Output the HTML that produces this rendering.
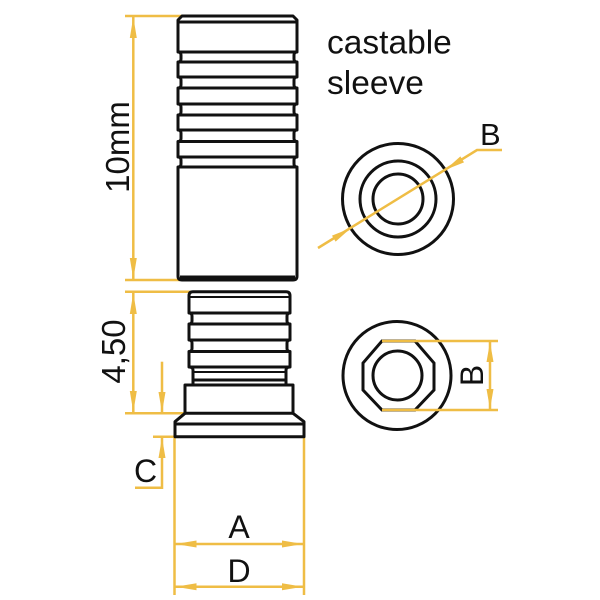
<!DOCTYPE html>
<html>
<head>
<meta charset="utf-8">
<style>
html,body{margin:0;padding:0;background:#fff;}
svg{display:block;}
text{font-family:"Liberation Sans",Arial,sans-serif;fill:#111;}
</style>
</head>
<body>
<svg width="600" height="600" viewBox="0 0 600 600" xmlns="http://www.w3.org/2000/svg">
<rect width="600" height="600" fill="#fff"/>

<!-- ===== Yellow dimension lines (behind body) ===== -->
<g stroke="#EFBD45" stroke-width="2.5" fill="none">
  <line x1="125" y1="16" x2="182" y2="16"/>
  <line x1="133.3" y1="16" x2="133.3" y2="280"/>
  <line x1="125" y1="280" x2="180" y2="280"/>
  <line x1="125" y1="291.7" x2="197" y2="291.7"/>
  <line x1="133.3" y1="291.7" x2="133.3" y2="413.3"/>
  <line x1="125" y1="413.3" x2="187" y2="413.3"/>
  <!-- C -->
  <line x1="162" y1="361.7" x2="162" y2="413"/>
  <line x1="153" y1="436.7" x2="175" y2="436.7"/>
  <polyline points="162,437 162,487.7 135,487.7"/>
  <!-- extension lines -->
  <line x1="174.5" y1="436.7" x2="174.5" y2="595"/>
  <line x1="304" y1="436.7" x2="304" y2="595"/>
  <line x1="174.5" y1="544" x2="304" y2="544"/>
  <line x1="174.5" y1="586.7" x2="304" y2="586.7"/>
</g>
<g fill="#EFBD45">
  <polygon points="133.3,17 129.8,38 136.8,38"/>
  <polygon points="133.3,279 129.8,258 136.8,258"/>
  <polygon points="133.3,293 129.8,314 136.8,314"/>
  <polygon points="133.3,412 129.8,391 136.8,391"/>
  <polygon points="162,412.5 158.5,392 165.5,392"/>
  <polygon points="162,437.5 158.5,458 165.5,458"/>
  <polygon points="175.5,544 196.5,540.5 196.5,547.5"/>
  <polygon points="303,544 282,540.5 282,547.5"/>
  <polygon points="175.5,586.7 196.5,583.2 196.5,590.2"/>
  <polygon points="303,586.7 282,583.2 282,590.2"/>
</g>

<!-- ===== Upper sleeve ===== -->
<g stroke="#111" stroke-width="3" fill="#fff" stroke-linejoin="round">
  <path d="M 182 16 L 178 20 L 178 52 Q 181 52 181 55 L 181 59 Q 181 62 178 62 L 178 77 Q 181 77 181 80 L 181 85 Q 181 88 178 88 L 178 104 Q 181 104 181 107 L 181 112 Q 181 115 178 115 L 178 130 Q 181 130 181 133 L 181 138.5 Q 181 141.5 178 141.5 L 178 157 Q 181 157 181 160 L 181 164 Q 181 167 178 167 L 178 276 Q 178 280 182 280 L 293 280 Q 297 280 297 276 L 297 167 Q 294 167 294 164 L 294 160 Q 294 157 297 157 L 297 141.5 Q 294 141.5 294 138.5 L 294 133 Q 294 130 297 130 L 297 115 Q 294 115 294 112 L 294 107 Q 294 104 297 104 L 297 88 Q 294 88 294 85 L 294 80 Q 294 77 297 77 L 297 62 Q 294 62 294 59 L 294 55 Q 294 52 297 52 L 297 20 L 293 16 Z"/>
</g>
<g stroke="#111" stroke-width="3">
  <line x1="178" y1="22" x2="297" y2="22"/>
  <line x1="178" y1="52" x2="297" y2="52"/>
  <line x1="178" y1="62" x2="297" y2="62"/>
  <line x1="178" y1="77" x2="297" y2="77"/>
  <line x1="178" y1="88" x2="297" y2="88"/>
  <line x1="178" y1="104" x2="297" y2="104"/>
  <line x1="178" y1="115" x2="297" y2="115"/>
  <line x1="178" y1="130" x2="297" y2="130"/>
  <line x1="178" y1="141.5" x2="297" y2="141.5"/>
  <line x1="178" y1="157" x2="297" y2="157"/>
  <line x1="178" y1="167" x2="297" y2="167"/>
  <line x1="180" y1="277" x2="295" y2="277"/>
</g>

<!-- ===== Lower piece ===== -->
<g stroke="#111" stroke-width="3" fill="#fff" stroke-linejoin="round">
  <path d="M 193 291.7 Q 189 291.7 189 295.7 L 189 313 Q 192 313 192 316 L 192 321 Q 192 324 189 324 L 189 340 Q 192 340 192 343 L 192 348.5 Q 192 351.5 189 351.5 L 189 367 Q 193 367 193 370 L 193 385 L 185 385 L 185 413.3 L 175 421.7 L 175 436.7 L 304 436.7 L 304 421.7 L 293 413.3 L 293 385 L 286 385 L 286 370 Q 286 367 290 367 L 290 351.5 Q 287 351.5 287 348.5 L 287 343 Q 287 340 290 340 L 290 324 Q 287 324 287 321 L 287 316 Q 287 313 290 313 L 290 295.7 Q 290 291.7 286 291.7 Z"/>
</g>
<g stroke="#111" stroke-width="3">
  <line x1="189" y1="297" x2="290" y2="297" stroke-width="2"/>
  <line x1="189" y1="313" x2="290" y2="313"/>
  <line x1="189" y1="324" x2="290" y2="324"/>
  <line x1="189" y1="340" x2="290" y2="340"/>
  <line x1="189" y1="351.5" x2="290" y2="351.5"/>
  <line x1="189" y1="367" x2="290" y2="367"/>
  <line x1="193" y1="372" x2="286" y2="372" stroke-width="2"/>
  <line x1="193" y1="380" x2="286" y2="380"/>
  <line x1="185" y1="385" x2="293" y2="385"/>
  <line x1="185" y1="413.3" x2="293" y2="413.3"/>
  <line x1="175" y1="424" x2="304" y2="424"/>
</g>

<!-- ===== Top end view (circles) ===== -->
<g stroke="#111" stroke-width="3" fill="none">
  <circle cx="398" cy="199" r="55.5"/>
  <circle cx="398" cy="199" r="38"/>
  <circle cx="398" cy="199" r="25"/>
</g>
<g stroke="#EFBD45" stroke-width="2.5" fill="none">
  <polyline points="318,248 477,150 502,150"/>
</g>
<g fill="#EFBD45">
  <polygon points="445.2,169.9 464.0,162.4 460.4,156.4"/>
  <polygon points="350.8,228.1 335.6,241.6 332.0,235.6"/>
</g>

<!-- ===== Bottom end view (hex) ===== -->
<g stroke="#111" stroke-width="3" fill="none">
  <circle cx="397" cy="375.5" r="54"/>
  <polygon points="382,341 415,341 434,363 434,390 415,410 382,410 363,390 363,363"/>
  <circle cx="397.5" cy="375.5" r="24.5"/>
</g>
<g stroke="#EFBD45" stroke-width="2.5" fill="none">
  <line x1="382" y1="341" x2="498" y2="341"/>
  <line x1="382" y1="410" x2="498" y2="410"/>
  <line x1="490" y1="341" x2="490" y2="410"/>
</g>
<g fill="#EFBD45">
  <polygon points="490,342 486.5,362 493.5,362"/>
  <polygon points="490,409 486.5,389 493.5,389"/>
</g>

<!-- ===== Labels ===== -->
<text x="327" y="53.5" font-size="33.5">castable</text>
<text x="327" y="94" font-size="33.5">sleeve</text>
<text transform="translate(129,147) rotate(-90)" font-size="33" text-anchor="middle">10mm</text>
<text transform="translate(125,351.5) rotate(-90)" font-size="33" text-anchor="middle">4,50</text>
<text x="134" y="482" font-size="32">C</text>
<text x="239" y="538" font-size="32" text-anchor="middle">A</text>
<text x="239" y="582" font-size="32" text-anchor="middle">D</text>
<text x="480" y="145" font-size="31">B</text>
<text transform="translate(483,375.5) rotate(-90)" font-size="32" text-anchor="middle">B</text>
</svg>
</body>
</html>
